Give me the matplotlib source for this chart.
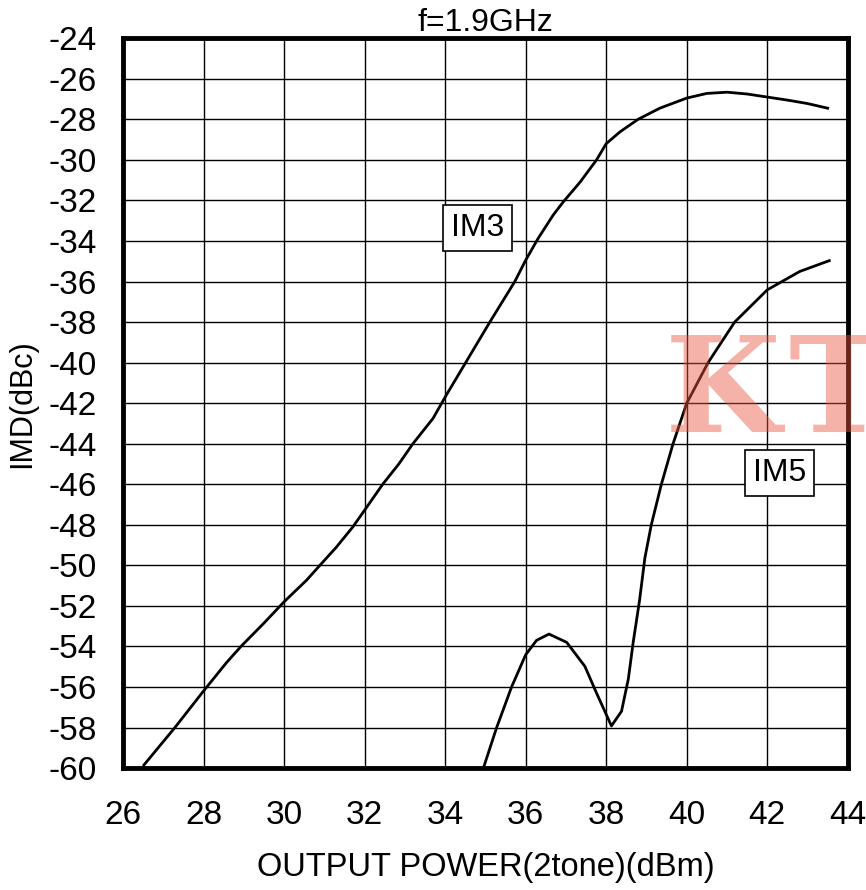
import numpy as np
import matplotlib
matplotlib.use("Agg")
import matplotlib.pyplot as plt

plt.rcParams['font.family'] = ['Liberation Sans', 'DejaVu Sans']
plt.rcParams['axes.unicode_minus'] = False

# IM3 curve
im3_x = [26.52, 27.29, 28.0, 28.57, 28.93, 29.5, 30.0, 30.56, 30.89, 31.3, 31.71, 32.0,
         32.45, 32.85, 33.2, 33.7, 34.0, 34.45, 35.11, 35.73, 36.0, 36.31, 36.68, 36.93,
         37.35, 37.76, 38.0, 38.34, 38.79, 39.33, 40.0, 40.5, 41.0, 41.5, 42.0, 42.5,
         43.0, 43.5]
im3_y = [-59.85, -58.0, -56.2, -54.8, -54.0, -52.85, -51.8, -50.73, -50.0, -49.1, -48.1, -47.28,
         -46.0, -45.0, -44.0, -42.75, -41.7, -40.2, -38.0, -36.0, -34.95, -33.87, -32.73, -32.08,
         -31.1, -30.0, -29.2, -28.62, -28.0, -27.45, -26.95, -26.72, -26.66, -26.75, -26.9, -27.05,
         -27.22, -27.45]

# IM5 curve
im5_x = [34.95, 35.28, 35.65, 36.0, 36.27, 36.58, 37.02, 37.47, 37.76, 38.13, 38.38, 38.55,
         38.67, 38.83, 38.96, 39.12, 39.37, 39.66, 40.0, 40.53, 41.19, 42.0, 42.81, 43.54]
im5_y = [-60.0, -58.0, -56.0, -54.41, -53.7, -53.39, -53.8, -54.98, -56.3, -57.92, -57.2, -55.6,
         -53.8, -51.7, -49.64, -48.0, -46.0, -44.0, -42.0, -40.0, -38.0, -36.41, -35.5, -34.97]

x_ticks = np.arange(26, 45, 2)
y_ticks = np.arange(-60, -23, 2)

fig = plt.figure(figsize=(8.66, 8.90), dpi=100)
ax = fig.add_axes([0.142, 0.137, 0.837, 0.820])

ax.plot(im3_x, im3_y, color='black', lw=2)
ax.plot(im5_x, im5_y, color='black', lw=2)

ax.set_xlim(26, 44)
ax.set_ylim(-60, -24)
ax.set_xticks(x_ticks)
ax.set_yticks(y_ticks)
ax.tick_params(labelsize=24, length=0)
ax.tick_params(axis='x', pad=23)
ax.tick_params(axis='y', pad=19)
ax.grid(True, color='black', lw=1)
for sp in ax.spines.values():
    sp.set_linewidth(3.5)

ax.set_xlabel('OUTPUT POWER(2tone)(dBm)', fontsize=23.5, labelpad=15)
ax.set_ylabel('IMD(dBc)', fontsize=22, labelpad=8)
ax.set_title('f=1.9GHz', fontsize=23, pad=2)

box = dict(boxstyle='square,pad=0.25', fc='white', ec='black', lw=1.2)
ax.text(34.81, -33.37, 'IM3', fontsize=23, ha='center', va='center', bbox=box)
ax.text(42.31, -45.45, 'IM5', fontsize=23, ha='center', va='center', bbox=box)

# watermark, drawn over the axes
wm = dict(fontsize=96, family=['DejaVu Serif'], weight='bold', color='#e8553f',
          alpha=0.45, ha='left', va='baseline')
fig.text(0.768, 0.515, 'K', **wm)
fig.text(0.910, 0.515, 'T', **wm)

fig.savefig('out.png', dpi=100)
